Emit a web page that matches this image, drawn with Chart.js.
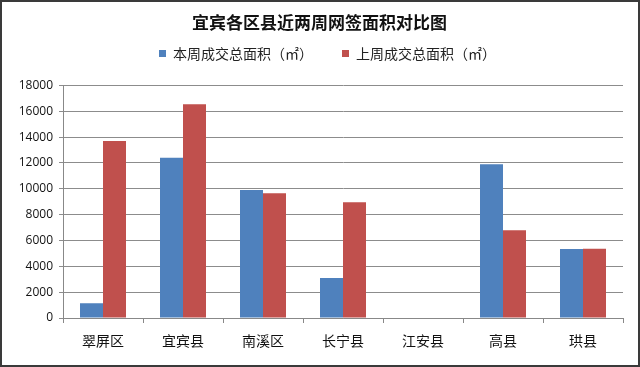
<!DOCTYPE html>
<html>
<head>
<meta charset="utf-8">
<script src="https://cdn.jsdelivr.net/npm/chart.js@4/dist/chart.umd.min.js"></script>
<style>
  html, body { margin: 0; padding: 0; background: #fff; }
  #wrap { width: 640px; height: 367px; box-sizing: border-box; border: 2px solid #3a3a3a; }
  #wrap canvas { display: block; }
</style>
</head>
<body>
<div id="wrap"><canvas id="bar-chart" width="636" height="363"></canvas></div>
<script>
// 区县
const districts = ['翠屏区', '宜宾县', '南溪区', '长宁县', '江安县', '高县', '珙县'];
// 本周 / 上周成交总面积（㎡）
const thisWeek = [1150, 12400, 9900, 3100, 0, 11900, 5330];
const lastWeek = [13700, 16550, 9650, 8950, 0, 6800, 5350];
const yTicks = [0, 2000, 4000, 6000, 8000, 10000, 12000, 14000, 16000, 18000];

const cjk = '"Noto Sans CJK SC", "Noto Sans", sans-serif';

// taller legend box so the plot starts lower, and recentre title/legend on the full width
const headerFix = {
  id: 'headerFix',
  beforeInit(chart) {
    const lg = chart.legend;
    if (!lg) return;
    const fit = lg.fit;
    lg.fit = function () {
      fit.call(this);
      this.height = 68;
    };
  },
  afterLayout(chart) {
    if (chart.titleBlock) {
      chart.titleBlock.left += 7;
      chart.titleBlock.right += 7;
    }
    if (chart.legend) {
      chart.legend.left += 15;
      chart.legend.right += 15;
    }
  }
};

const ctx = document.getElementById('bar-chart').getContext('2d');

new Chart(ctx, {
  type: 'bar',
  data: {
    labels: districts,
    datasets: [
      { label: '本周成交总面积（㎡）', data: thisWeek, backgroundColor: '#4F81BD' },
      { label: '上周成交总面积（㎡）', data: lastWeek, backgroundColor: '#C0504D' }
    ]
  },
  plugins: [headerFix],
  options: {
    responsive: false,
    animation: false,
    layout: { padding: { left: 0, right: 15, top: 0, bottom: 0 } },
    datasets: { bar: { categoryPercentage: 0.575, barPercentage: 1.0 } },
    plugins: {
      title: {
        display: true,
        text: '宜宾各区县近两周网签面积对比图',
        color: '#111',
        font: { family: cjk, size: 17, weight: 'bold' },
        padding: { top: 10, bottom: -15 }
      },
      legend: {
        position: 'top',
        labels: {
          color: '#222',
          font: { family: cjk, size: 14 },
          boxWidth: 7,
          boxHeight: 7,
          padding: 29
        }
      },
      tooltip: { enabled: false }
    },
    scales: {
      x: {
        grid: { drawOnChartArea: false, drawTicks: true, tickLength: 5, color: '#888', offset: true },
        border: { color: '#888' },
        ticks: { color: '#111', font: { family: cjk, size: 14 }, padding: 9 },
        afterFit: (s) => { s.height = 47; }
      },
      y: {
        min: 0,
        max: 18000,
        afterBuildTicks: (s) => { s.ticks = yTicks.map(v => ({ value: v })); },
        grid: { color: '#8c8c8c', tickLength: 4 },
        border: { color: '#888' },
        ticks: {
          color: '#111',
          font: { family: '"Open Sans", sans-serif', size: 12 },
          padding: 6,
          callback: (v) => String(v)
        },
        afterFit: (s) => { s.width = 61; }
      }
    }
  }
});
</script>
</body>
</html>
